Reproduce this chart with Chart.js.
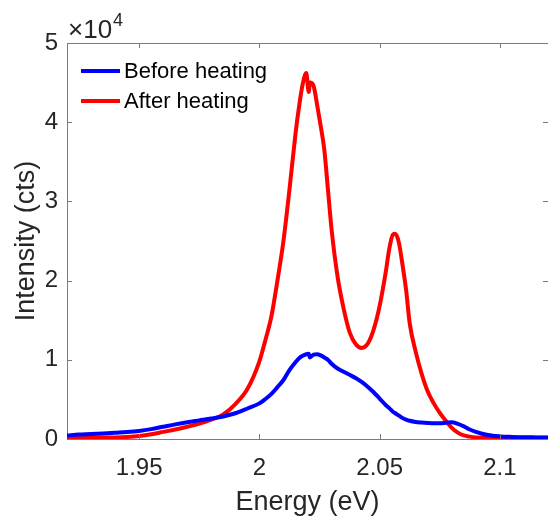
<!DOCTYPE html>
<html>
<head>
<meta charset="utf-8">
<script src="https://cdn.jsdelivr.net/npm/chart.js@4.4.1/dist/chart.umd.min.js"></script>
<style>
  body { margin: 0; background: #fff; }
  canvas { display: block; }
</style>
</head>
<body>
<canvas id="spectrum" width="548" height="521"></canvas>
<script>
// photon energy (eV)
const energy = [
  1.920, 1.925, 1.930, 1.935, 1.940, 1.945, 1.950, 1.955, 1.960, 1.965,
  1.970, 1.975, 1.980, 1.985, 1.990, 1.995, 2.000, 2.0025, 2.005, 2.0075,
  2.010, 2.0125, 2.015, 2.0165, 2.018, 2.0195, 2.0205, 2.021, 2.0225, 2.024,
  2.0255, 2.027, 2.0285, 2.030, 2.0325, 2.035, 2.0375, 2.040, 2.0425, 2.045,
  2.0475, 2.050, 2.0525, 2.054, 2.0555, 2.0565, 2.058, 2.0595, 2.061, 2.0625,
  2.065, 2.0675, 2.070, 2.0725, 2.075, 2.0775, 2.080, 2.0825, 2.085, 2.0875,
  2.090, 2.095, 2.100, 2.105, 2.110, 2.115, 2.120
];

const beforeHeating = [
  450, 560, 620, 700, 790, 880, 1020, 1250, 1550, 1850,
  2120, 2350, 2580, 2850, 3250, 3850, 4500, 5050, 5700, 6550,
  7450, 8700, 9700, 10200, 10500, 10700, 10750, 10300, 10650, 10700,
  10550, 10300, 10000, 9500, 8900, 8500, 8100, 7700, 7200, 6600,
  5900, 5100, 4300, 3900, 3450, 3250, 2950, 2650, 2450, 2300,
  2150, 2080, 2030, 2000, 2000, 2050, 2100, 1900, 1600, 1200,
  900, 500, 330, 260, 220, 200, 180
];

const afterHeating = [
  250, 220, 200, 190, 200, 260, 380, 600, 900, 1200,
  1550, 1950, 2450, 3100, 4400, 6300, 9800, 12500, 15500, 20000,
  25000, 31500, 38500, 42000, 44800, 46200, 43800, 45000, 44600, 42200,
  39500, 36500, 31500, 26500, 20500, 16500, 13500, 12000, 11500, 12000,
  13800, 16800, 21000, 24000, 25800, 25900, 24800, 22000, 18800, 14600,
  11000, 8200, 6000, 4500, 3300, 2300, 1400, 800, 450, 300,
  200, 150, 150, 180, 170, 150, 160
];

const xTicks = [1.95, 2.0, 2.05, 2.1];
const yTicks = [0, 10000, 20000, 30000, 40000, 50000];

const axisColor = '#7a7a7a';
const textColor = '#262626';
const fontFamily = "'Liberation Sans', Arial, sans-serif";

// matlab-ish box: top border, inward ticks, x10^4 label and legend inside the axes
const matlabBox = {
  id: 'matlabBox',
  afterDraw(chart) {
    const { ctx, chartArea: a, scales: { x, y } } = chart;
    const tl = 5;
    ctx.save();
    ctx.strokeStyle = axisColor;
    ctx.lineWidth = 1;
    ctx.beginPath();
    ctx.moveTo(a.left, a.top + 0.5);
    ctx.lineTo(a.right, a.top + 0.5);
    x.ticks.forEach(t => {
      const px = Math.round(x.getPixelForValue(t.value)) + 0.5;
      ctx.moveTo(px, a.bottom);
      ctx.lineTo(px, a.bottom - tl);
      ctx.moveTo(px, a.top);
      ctx.lineTo(px, a.top + tl);
    });
    y.ticks.forEach(t => {
      const py = Math.round(y.getPixelForValue(t.value)) + 0.5;
      ctx.moveTo(a.left, py);
      ctx.lineTo(a.left + tl, py);
      ctx.moveTo(a.right, py);
      ctx.lineTo(a.right - tl, py);
    });
    ctx.stroke();

    // exponent label
    ctx.fillStyle = textColor;
    ctx.textBaseline = 'alphabetic';
    ctx.textAlign = 'left';
    ctx.font = '26px ' + fontFamily;
    ctx.fillText('\u00d710', 68, 38);
    const w = ctx.measureText('\u00d710').width;
    ctx.font = '18px ' + fontFamily;
    ctx.fillText('4', 68 + w + 1, 26);

    // legend
    ctx.font = '22px ' + fontFamily;
    ctx.textBaseline = 'middle';
    ctx.lineWidth = 4;
    chart.data.datasets.forEach((ds, i) => {
      const ly = 71 + i * 30;
      ctx.strokeStyle = ds.borderColor;
      ctx.beginPath();
      ctx.moveTo(81, ly);
      ctx.lineTo(120, ly);
      ctx.stroke();
      ctx.fillStyle = '#000';
      ctx.fillText(ds.label, 124, ly + 1);
    });
    ctx.restore();
  }
};

const ctx = document.getElementById('spectrum').getContext('2d');
const spectrumChart = new Chart(ctx, {
  type: 'line',
  data: {
    datasets: [{
      label: 'Before heating',
      data: energy.map((e, i) => ({ x: e, y: beforeHeating[i] })),
      borderColor: '#0000ff',
      borderWidth: 4,
      pointRadius: 0,
      cubicInterpolationMode: 'monotone'
    }, {
      label: 'After heating',
      data: energy.map((e, i) => ({ x: e, y: afterHeating[i] })),
      borderColor: '#ff0000',
      borderWidth: 4,
      pointRadius: 0,
      cubicInterpolationMode: 'monotone'
    }]
  },
  options: {
    responsive: false,
    animation: false,
    layout: {
      padding: { top: 43, right: 0, bottom: 0, left: 0 }
    },
    plugins: {
      legend: { display: false },
      tooltip: { enabled: false }
    },
    scales: {
      x: {
        type: 'linear',
        min: 1.92,
        max: 2.12,
        afterBuildTicks: scale => { scale.ticks = xTicks.map(v => ({ value: v })); },
        afterFit: scale => { scale.height = 82; },
        grid: { display: true, drawOnChartArea: false, drawTicks: false },
        border: { display: true, color: axisColor, width: 1 },
        ticks: {
          padding: 15,
          color: textColor,
          font: { family: fontFamily, size: 24 },
          callback: v => Number(v.toFixed(2)).toString()
        },
        title: {
          display: true,
          text: 'Energy (eV)',
          color: textColor,
          font: { family: fontFamily, size: 27 },
          padding: { top: 0, bottom: 2 }
        }
      },
      y: {
        min: 0,
        max: 50000,
        afterBuildTicks: scale => { scale.ticks = yTicks.map(v => ({ value: v })); },
        afterFit: scale => { scale.width = 67; },
        grid: { display: true, drawOnChartArea: false, drawTicks: false },
        border: { display: true, color: axisColor, width: 1 },
        ticks: {
          padding: 9,
          color: textColor,
          font: { family: fontFamily, size: 24 },
          callback: v => v / 10000
        },
        title: {
          display: true,
          text: 'Intensity (cts)',
          color: textColor,
          font: { family: fontFamily, size: 27 },
          padding: { top: 10, bottom: 0 }
        }
      }
    }
  },
  plugins: [matlabBox]
});
</script>
</body>
</html>
